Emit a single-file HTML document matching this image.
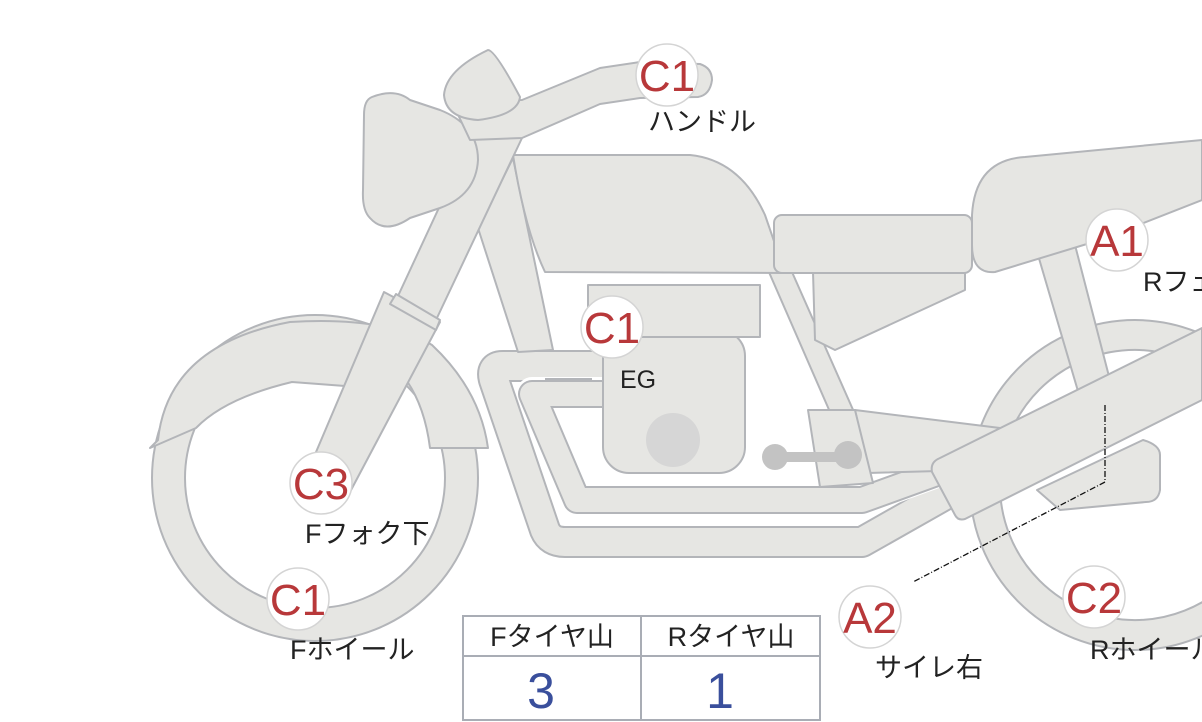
<!DOCTYPE html>
<html><head><meta charset="utf-8"><style>
html,body{margin:0;padding:0;background:#fff;}
svg{display:block}
.s{fill:#e6e6e3;stroke:#b3b5b9;stroke-width:2;stroke-linejoin:round}
.lab{font-family:"Liberation Sans","Noto Sans CJK JP",sans-serif;font-size:27px;fill:#222}
.cir{fill:#fff;stroke:#d4d4d4;stroke-width:1.5}
.ct{font-family:"Liberation Sans",sans-serif;font-size:44px;fill:#b8383a;text-anchor:middle}
</style></head><body>
<svg width="1202" height="722" viewBox="0 0 1202 722" xmlns="http://www.w3.org/2000/svg">
<!-- front wheel -->
<path class="s" fill-rule="evenodd" d="M152,478 a163,163 0 1,0 326,0 a163,163 0 1,0 -326,0 Z M185,478 a130,130 0 1,0 260,0 a130,130 0 1,0 -260,0 Z"/>
<!-- fender -->
<path class="s" d="M150,448 L158,440 Q168,345 290,322 Q385,316 432,345 Q480,390 488,448 L430,448 Q424,400 400,372 L345,386 L292,382 Q225,398 196,428 Z"/>
<!-- rear wheel -->
<path class="s" fill-rule="evenodd" d="M970,485 a165,165 0 1,0 330,0 a165,165 0 1,0 -330,0 Z M1000,485 a135,135 0 1,0 270,0 a135,135 0 1,0 -270,0 Z"/>
<!-- exhaust tubes -->
<g fill="none" stroke-linejoin="round" stroke-linecap="butt">
<path d="M610,366 L503,366 Q490,366 494,380 L545,530 Q550,542 565,542 L862,542 L945,495" stroke="#b3b5b9" stroke-width="32"/>
<path d="M610,366 L503,366 Q490,366 494,380 L545,530 Q550,542 565,542 L862,542 L945,495" stroke="#e6e6e3" stroke-width="28"/>
<path d="M610,392 L532,392 L577,500 L862,500 L945,470" stroke="#fff" stroke-width="30"/>
<path d="M612,394 L532,394 L577,500 L862,500 L945,470" stroke="#b3b5b9" stroke-width="28"/>
<path d="M612,394 L532,394 L577,500 L862,500 L945,470" stroke="#e6e6e3" stroke-width="24"/>
</g>
<line x1="545" y1="379" x2="592" y2="379" stroke="#b3b5b9" stroke-width="2"/>
<!-- frame downtube from headstock -->
<polygon class="s" points="478,228 513,158 553,350 518,352"/>
<!-- rear frame tube -->
<polygon class="s" points="765,263 788,263 854,412 830,412"/>
<!-- lower rail -->
<polygon class="s" points="855,410 1000,428 975,470 868,473"/>
<polygon class="s" points="808,410 855,410 873,483 820,487"/>
<!-- engine -->
<rect class="s" x="603" y="330" width="142" height="143" rx="26"/>
<rect class="s" x="588" y="285" width="172" height="52"/>
<circle cx="673" cy="440" r="27" fill="#d6d6d6"/>
<!-- dumbbell -->
<rect x="775" y="452" width="73" height="10" fill="#c3c3c3"/>
<circle cx="775" cy="457" r="13" fill="#c3c3c3"/>
<circle cx="848" cy="455" r="14" fill="#c3c3c3"/>
<!-- side cover -->
<polygon class="s" points="813,272 965,272 965,290 835,350 815,340"/>
<!-- tank -->
<path class="s" d="M513,155 L690,155 Q740,160 765,215 L785,273 L545,272 Q525,230 513,155 Z"/>
<!-- seat front -->
<rect class="s" x="774" y="215" width="198" height="58" rx="8"/>
<!-- rear shock -->
<polygon class="s" points="1038,255 1075,245 1112,388 1080,398"/>
<!-- cowl -->
<path class="s" d="M972,215 Q975,160 1025,157 L1202,140 L1202,200 L1100,240 L995,272 Q972,274 972,245 Z"/>
<!-- muffler behind band -->
<path class="s" d="M1037,490 L1143,440 Q1160,445 1160,455 L1160,490 Q1158,502 1146,502 L1060,510 Z"/>
<!-- swingarm band -->
<path class="s" d="M940,458 L1202,328 L1202,400 L965,519 Q958,521 955,515 L932,472 Q930,462 940,458 Z"/>
<!-- fork -->
<polygon class="s" points="476,128 522,138 436,320 398,296"/>
<polygon class="s" points="384,292 440,322 350,492 305,478"/>
<polygon class="s" points="396,294 440,320 436,330 390,304" style="fill:#e6e6e3"/>
<!-- headlight -->
<path class="s" d="M372,97 Q395,88 410,100 L440,110 Q478,125 478,160 Q476,195 440,208 L410,218 Q385,235 370,218 Q362,210 363,190 L364,115 Q364,100 372,97 Z"/>
<!-- handlebar -->
<path class="s" d="M452,102 L522,100 L600,68 L640,62 L700,64 Q712,68 712,80 Q710,95 698,97 L640,98 L600,104 L522,138 L470,140 Z"/>
<!-- grip blob -->
<path class="s" d="M488,50 Q495,50 520,97 Q518,115 478,120 Q446,118 444,95 Q446,70 488,50 Z"/>
<!-- leader line -->
<path d="M1105,405 L1105,482 L913,582" fill="none" stroke="#111" stroke-width="1.3" stroke-dasharray="6,2,1,2"/>
<!-- circles -->
<g>
<circle class="cir" cx="667" cy="75" r="31"/><text class="ct" x="667" y="91">C1</text>
<circle class="cir" cx="612" cy="327" r="31"/><text class="ct" x="612" y="343">C1</text>
<circle class="cir" cx="1117" cy="240" r="31"/><text class="ct" x="1117" y="256">A1</text>
<circle class="cir" cx="321" cy="483" r="31"/><text class="ct" x="321" y="499">C3</text>
<circle class="cir" cx="298" cy="599" r="31"/><text class="ct" x="298" y="615">C1</text>
<circle class="cir" cx="870" cy="617" r="31"/><text class="ct" x="870" y="633">A2</text>
<circle class="cir" cx="1094" cy="597" r="31"/><text class="ct" x="1094" y="613">C2</text>
</g>
<text class="lab" x="648" y="131">ハンドル</text>
<text class="lab" x="620" y="388" style="font-size:25px">EG</text>
<text class="lab" x="1143" y="291">Rフェ</text>
<text class="lab" x="305" y="543">Fフォク下</text>
<text class="lab" x="290" y="659">Fホイール</text>
<text class="lab" x="875" y="677">サイレ右</text>
<text class="lab" x="1090" y="659">Rホイール</text>
<!-- table -->
<g fill="none" stroke="#a9adb5" stroke-width="2">
<rect x="463" y="616" width="357" height="104"/>
<line x1="463" y1="656" x2="820" y2="656"/>
<line x1="641" y1="616" x2="641" y2="720"/>
</g>
<text class="lab" x="552" y="646" text-anchor="middle">Fタイヤ山</text>
<text class="lab" x="731" y="646" text-anchor="middle">Rタイヤ山</text>
<text x="541" y="708" text-anchor="middle" style="font-family:'Liberation Sans',sans-serif;font-size:50px;fill:#3a4f9c">3</text>
<text x="720" y="708" text-anchor="middle" style="font-family:'Liberation Sans',sans-serif;font-size:50px;fill:#3a4f9c">1</text>
</svg>
</body></html>
